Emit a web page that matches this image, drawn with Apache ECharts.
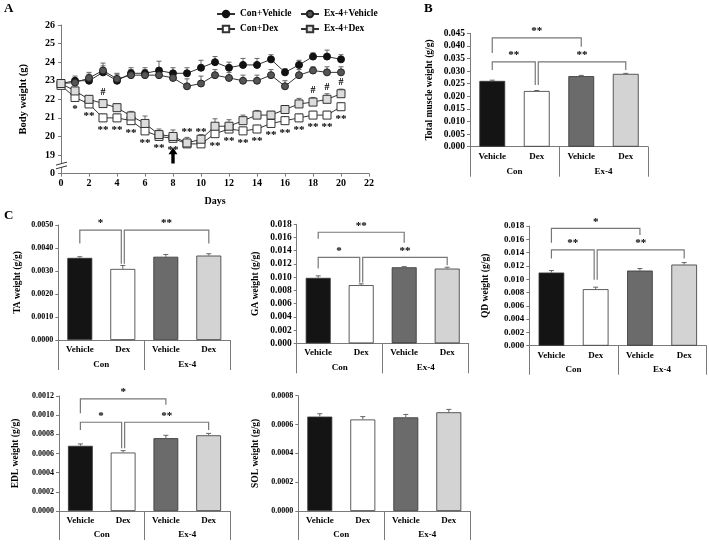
<!DOCTYPE html>
<html><head><meta charset="utf-8">
<script src="https://cdn.jsdelivr.net/npm/echarts@6/dist/echarts.min.js"></script>
<style>html,body{margin:0;padding:0;background:#fff}#c{width:709px;height:544px}</style>
</head><body><div id="c"></div>
<script>
// ---------- Panel A data ----------
const days = [0,1,2,3,4,5,6,7,8,9,10,11,12,13,14,15,16,17,18,19,20];
const conVehicle = [22.85,23.0,23.0,23.45,23.0,23.4,23.4,23.55,23.4,23.4,23.7,24.0,23.7,23.85,23.85,24.15,23.45,23.85,24.3,24.3,24.15];
const conVehicleErr = [0.15,0.25,0.35,0.35,0.35,0.3,0.3,0.5,0.3,0.3,0.4,0.3,0.3,0.35,0.35,0.25,0.2,0.25,0.2,0.35,0.25];
const ex4Vehicle = [22.85,22.9,23.15,23.55,23.1,23.3,23.3,23.3,23.15,22.7,22.85,23.3,23.15,23.0,23.0,23.3,22.7,23.3,23.55,23.45,23.45];
const ex4VehicleErr = [0.15,0.2,0.3,0.4,0.3,0.3,0.3,0.3,0.3,0.4,0.4,0.3,0.3,0.3,0.3,0.3,0.3,0.3,0.2,0.3,0.3];
const conDex = [22.75,22.1,21.75,21.0,21.0,20.85,20.3,20.0,19.9,19.6,19.6,20.15,20.4,20.3,20.4,20.7,20.85,21.0,21.15,21.15,21.6];
const conDexErr = [0.2,0.2,0.2,0.2,0.2,0.2,0.2,0.2,0.2,0.2,0.3,0.3,0.3,0.2,0.2,0.2,0.2,0.2,0.2,0.2,0.2];
const ex4Dex = [22.85,22.45,22.0,21.77,21.55,21.1,20.7,20.1,20.0,19.65,19.85,20.55,20.55,20.85,21.15,21.15,21.45,21.75,21.85,22.0,22.3];
const ex4DexErr = [0.15,0.2,0.2,0.2,0.2,0.25,0.4,0.3,0.35,0.3,0.25,0.4,0.35,0.3,0.25,0.2,0.2,0.3,0.25,0.3,0.25];
const conDexSig = ['','*','**','**','**','**','**','**','**','**','**','**','**','**','**','**','**','**','**','**','**'];
const conDexSigAboveDays = [9,10];
const ex4DexSig = ['','','','#','','','','','','','','','','','','','','','#','#','#'];
const arrowDay = 8;
const seriesNames = ['Con+Vehicle','Ex-4+Vehicle','Con+Dex','Ex-4+Dex'];

// ---------- Bar panels data ----------
const barCategories = ['Vehicle','Dex','Vehicle','Dex'];
const barGroups = ['Con','Ex-4'];
const totalValues = [0.0261,0.0221,0.0280,0.0289];
const totalErrors = [0.0003,0.0002,0.0003,0.0002];
const taValues = [0.00357,0.00309,0.00362,0.00367];
const taErrors = [0.00005,0.00015,0.0001,0.00008];
const gaValues = [0.0099,0.0088,0.0115,0.0113];
const gaErrors = [0.0003,0.0002,0.0001,0.0002];
const qdValues = [0.0110,0.0085,0.0113,0.0122];
const qdErrors = [0.0003,0.0003,0.0003,0.0003];
const edlValues = [0.00068,0.00061,0.00076,0.00079];
const edlErrors = [0.00002,0.00002,0.00003,0.00002];
const solValues = [0.000655,0.000635,0.00065,0.000685];
const solErrors = [0.00002,0.00002,0.00002,0.00002];
// brackets: [fromCategory, toCategory, topValue, fromLegEndValue, toLegEndValue]
const totalBrackets = [[0,2,0.0432,0.0372,0.0397],[0,1,0.0337,0.0304,0.0245],[1,3,0.0337,0.0245,0.0304]];
const totalBracketLabels = ['**','**','**'];
const taBrackets = [[0,1,0.00478,0.00420,0.00332],[1,3,0.00478,0.00332,0.00420]];
const taBracketLabels = ['*','**'];
const gaBrackets = [[0,2,0.0168,0.0158,0.0152],[0,1,0.0130,0.0113,0.0092],[1,3,0.0130,0.0092,0.0118]];
const gaBracketLabels = ['**','*','**'];
const qdBrackets = [[0,2,0.01765,0.0155,0.01665],[0,1,0.0144,0.0131,0.0099],[1,3,0.0144,0.0099,0.0131]];
const qdBracketLabels = ['*','**','**'];
const edlBrackets = [[0,2,0.00117,0.00102,0.00111],[0,1,0.000926,0.000845,0.000654],[1,3,0.000926,0.000654,0.000845]];
const edlBracketLabels = ['*','*','**'];
const solBrackets = [];
const solBracketLabels = [];

// ---------- styling ----------
const FONT = "'Liberation Serif','Times New Roman',serif";
const AX = '#7a7a7a';
const barColors = ['#141414','#ffffff','#6b6b6b','#d3d3d3'];

const grids = [], xAxes = [], yAxes = [], series = [];

function errRender(params, api){
  const x = api.value(0), y = api.value(1), e = api.value(2);
  const p0 = api.coord([x,y]), p1 = api.coord([x,y+e]);
  return {type:'group', children:[
    {type:'line', shape:{x1:p0[0],y1:p0[1],x2:p1[0],y2:p1[1]}, style:{stroke:'#666',lineWidth:1}},
    {type:'line', shape:{x1:p1[0]-2.5,y1:p1[1],x2:p1[0]+2.5,y2:p1[1]}, style:{stroke:'#666',lineWidth:1}}
  ]};
}

// ---------- Panel A ----------
grids.push({left:61, top:25, width:308, height:148.6});
xAxes.push({gridIndex:0, type:'value', min:0, max:22, interval:2, name:'Days', nameLocation:'middle', nameGap:23,
  nameTextStyle:{fontFamily:FONT, fontWeight:'bold', fontSize:10, color:'#000'},
  axisLine:{lineStyle:{color:AX}}, axisTick:{length:3, lineStyle:{color:AX}}, splitLine:{show:false},
  axisLabel:{fontFamily:FONT, fontWeight:'bold', fontSize:10, color:'#000', margin:5}});
yAxes.push({gridIndex:0, type:'value', min:18, max:26, interval:1, name:'Body weight (g)', nameLocation:'middle', nameGap:32,
  nameTextStyle:{fontFamily:FONT, fontWeight:'bold', fontSize:10.5, color:'#000'},
  axisLine:{show:true, lineStyle:{color:AX}}, axisTick:{show:true, length:3, lineStyle:{color:AX}}, splitLine:{show:false},
  axisLabel:{fontFamily:FONT, fontWeight:'bold', fontSize:10, color:'#000', margin:6, formatter:v => v === 18 ? '0' : String(v)}});

const lineDefs = [
  {name:seriesNames[0], vals:conVehicle, errs:conVehicleErr, symbol:'circle', size:7, color:'#111111', border:'#111'},
  {name:seriesNames[1], vals:ex4Vehicle, errs:ex4VehicleErr, symbol:'circle', size:7, color:'#555555', border:'#222'},
  {name:seriesNames[2], vals:conDex, errs:conDexErr, symbol:'rect', size:8, color:'#ffffff', border:'#333'},
  {name:seriesNames[3], vals:ex4Dex, errs:ex4DexErr, symbol:'rect', size:8, color:'#dcdcdc', border:'#333'}
];
lineDefs.forEach((d, k) => {
  series.push({type:'custom', xAxisIndex:0, yAxisIndex:0, z:1, silent:true,
    data: days.map((x,i)=>[x, d.vals[i], d.errs[i]]), renderItem: errRender});
});
lineDefs.forEach((d, k) => {
  const s = {type:'line', name:d.name, xAxisIndex:0, yAxisIndex:0, z:3, symbol:d.symbol, symbolSize:d.size,
    lineStyle:{color:'#333', width:1}, itemStyle:{color:d.color, borderColor:d.border, borderWidth:1},
    emphasis:{disabled:true}, animation:false,
    data: days.map((x,i)=>{
      const item = {value:[x, d.vals[i]]};
      if (k === 2 && conDexSig[i]) {
        const above = conDexSigAboveDays.indexOf(x) >= 0;
        item.label = {show:true, formatter:conDexSig[i], position: above ? 'top' : 'bottom', distance: above ? 2 : 2,
          fontFamily:FONT, fontWeight:'bold', fontSize:11, color:'#000'};
      }
      if (k === 3 && ex4DexSig[i]) {
        item.label = {show:true, formatter:ex4DexSig[i], position:'top', distance:2,
          fontFamily:FONT, fontWeight:'bold', fontSize:10, color:'#000'};
      }
      return item;
    })};
  if (k === 0) {
    s.markPoint = {silent:true, symbol:'path://M4.5,0 L9,7 L6.2,7 L6.2,17 L2.8,17 L2.8,7 L0,7 Z', symbolSize:[9,16],
      itemStyle:{color:'#000'}, label:{show:false}, data:[{coord:[arrowDay, 18.97]}]};
  }
  series.push(s);
});
// axis break marks
series.push({type:'custom', xAxisIndex:0, yAxisIndex:0, z:5, silent:true, data:[[0, 18.43]],
  renderItem:(params, api) => {
    const p = api.coord([api.value(0), api.value(1)]);
    return {type:'group', children:[
      {type:'rect', shape:{x:p[0]-2, y:p[1]-1.7, width:4, height:3.4}, style:{fill:'#fff'}},
      {type:'line', shape:{x1:p[0]-5, y1:p[1]-0.5, x2:p[0]+6, y2:p[1]-3.5}, style:{stroke:'#333', lineWidth:1}},
      {type:'line', shape:{x1:p[0]-5, y1:p[1]+3.2, x2:p[0]+6, y2:p[1]+0.2}, style:{stroke:'#333', lineWidth:1}}
    ]};
  }});

// ---------- bar panels ----------
function addBarPanel(cfg){
  const g = grids.length;
  grids.push(cfg.grid);
  const xi = xAxes.length;
  xAxes.push({gridIndex:g, type:'category', data:barCategories,
    axisLine:{show:true, lineStyle:{color:AX}}, axisTick:{show:false},
    axisLabel:{fontFamily:FONT, fontWeight:'bold', fontSize:9, color:'#000', margin:5, interval:0}});
  xAxes.push({gridIndex:g, type:'category', data:barGroups, position:'bottom', offset:cfg.offset,
    axisLine:{show:false}, axisTick:{show:true, inside:true, length:cfg.offset, lineStyle:{color:AX}},
    axisLabel:{inside:true, margin:1, fontFamily:FONT, fontWeight:'bold', fontSize:9, color:'#000'}});
  const yi = yAxes.length;
  yAxes.push({gridIndex:g, type:'value', min:0, max:cfg.max, interval:cfg.interval,
    name:cfg.name, nameLocation:'middle', nameGap:cfg.nameGap,
    nameTextStyle:{fontFamily:FONT, fontWeight:'bold', fontSize:cfg.nameSize || 9.5, color:'#000'},
    axisLine:{show:true, lineStyle:{color:AX}}, axisTick:{show:true, length:3, lineStyle:{color:AX}}, splitLine:{show:false},
    axisLabel:{fontFamily:FONT, fontWeight:'bold', fontSize:cfg.tickSize, color:'#000', margin:5, formatter:v => v.toFixed(cfg.decimals)}});
  series.push({type:'bar', xAxisIndex:xi, yAxisIndex:yi, barWidth:'58%', animation:false, silent:true,
    itemStyle:{borderColor:'#333', borderWidth:0.8},
    data: cfg.values.map((v,i)=>({value:v, itemStyle:{color:barColors[i]}}))});
  series.push({type:'custom', xAxisIndex:xi, yAxisIndex:yi, z:4, silent:true,
    data: cfg.values.map((v,i)=>[i, v, cfg.errors[i]]), renderItem: errRender});
  if (cfg.brackets.length) {
    const labels = cfg.labels;
    series.push({type:'custom', xAxisIndex:xi, yAxisIndex:yi, z:4, silent:true,
      data: cfg.brackets,
      renderItem:(params, api) => {
        const i1 = api.value(0), i2 = api.value(1);
        const top = api.coord([i1, api.value(2)]);
        const a = api.coord([i1, api.value(3)]);
        const b = api.coord([i2, api.value(4)]);
        let x1 = a[0], x2 = b[0];
        if (i1 === 1) x1 += 1.5;
        if (i2 === 1) x2 -= 1.5;
        return {type:'group', children:[
          {type:'polyline', shape:{points:[[x1,a[1]],[x1,top[1]],[x2,top[1]],[x2,b[1]]]}, style:{stroke:'#777', lineWidth:1.2, fill:null}},
          {type:'text', style:{text:labels[params.dataIndex], x:(x1+x2)/2, y:top[1]-1, align:'center', verticalAlign:'bottom',
            font:'bold 11px ' + FONT, fill:'#000'}}
        ]};
      }});
  }
}

addBarPanel({grid:{left:470, top:33.3, width:178, height:113.4}, max:0.045, interval:0.005, decimals:3,
  name:'Total muscle weight (g/g)', nameGap:35, offset:30, tickSize:9.5,
  values:totalValues, errors:totalErrors, brackets:totalBrackets, labels:totalBracketLabels});
addBarPanel({grid:{left:58.3, top:225, width:172, height:115}, max:0.005, interval:0.001, decimals:4,
  name:'TA weight (g/g)', nameGap:36, offset:30, tickSize:8,
  values:taValues, errors:taErrors, brackets:taBrackets, labels:taBracketLabels});
addBarPanel({grid:{left:296.7, top:224.3, width:172, height:119}, max:0.018, interval:0.002, decimals:3,
  name:'GA weight (g/g)', nameGap:36, offset:30, tickSize:9.5,
  values:gaValues, errors:gaErrors, brackets:gaBrackets, labels:gaBracketLabels});
addBarPanel({grid:{left:529.3, top:226, width:177, height:119.7}, max:0.018, interval:0.002, decimals:3,
  name:'QD weight (g/g)', nameGap:39, offset:29, tickSize:9,
  values:qdValues, errors:qdErrors, brackets:qdBrackets, labels:qdBracketLabels});
addBarPanel({grid:{left:59, top:396, width:171, height:115}, max:0.0012, interval:0.0002, decimals:4,
  name:'EDL weight (g/g)', nameGap:38, offset:29, tickSize:8,
  values:edlValues, errors:edlErrors, brackets:edlBrackets, labels:edlBracketLabels});
addBarPanel({grid:{left:298.3, top:395.7, width:172, height:115.3}, max:0.0008, interval:0.0002, decimals:4,
  name:'SOL weight (g/g)', nameGap:38, offset:29, tickSize:8,
  values:solValues, errors:solErrors, brackets:solBrackets, labels:solBracketLabels});

const legendText = {fontFamily:FONT, fontWeight:'bold', fontSize:9.5, color:'#000'};
const option = {
  animation:false,
  textStyle:{fontFamily:FONT},
  grid:grids, xAxis:xAxes, yAxis:yAxes, series:series,
  legend:[
    {data:[seriesNames[0], seriesNames[2]], orient:'vertical', left:216, top:9, itemGap:5, itemWidth:18, itemHeight:8,
      selectedMode:false, textStyle:legendText, padding:0},
    {data:[seriesNames[1], seriesNames[3]], orient:'vertical', left:300, top:9, itemGap:5, itemWidth:18, itemHeight:8,
      selectedMode:false, textStyle:legendText, padding:0}
  ],
  graphic:[
    {type:'text', left:4, top:2, style:{text:'A', font:'bold 13px ' + FONT, fill:'#000'}},
    {type:'text', left:424, top:2, style:{text:'B', font:'bold 13px ' + FONT, fill:'#000'}},
    {type:'text', left:4, top:209, style:{text:'C', font:'bold 13px ' + FONT, fill:'#000'}}
  ]
};
const chart = echarts.init(document.getElementById('c'), null, {renderer:'canvas'});
chart.setOption(option);
</script></body></html>
